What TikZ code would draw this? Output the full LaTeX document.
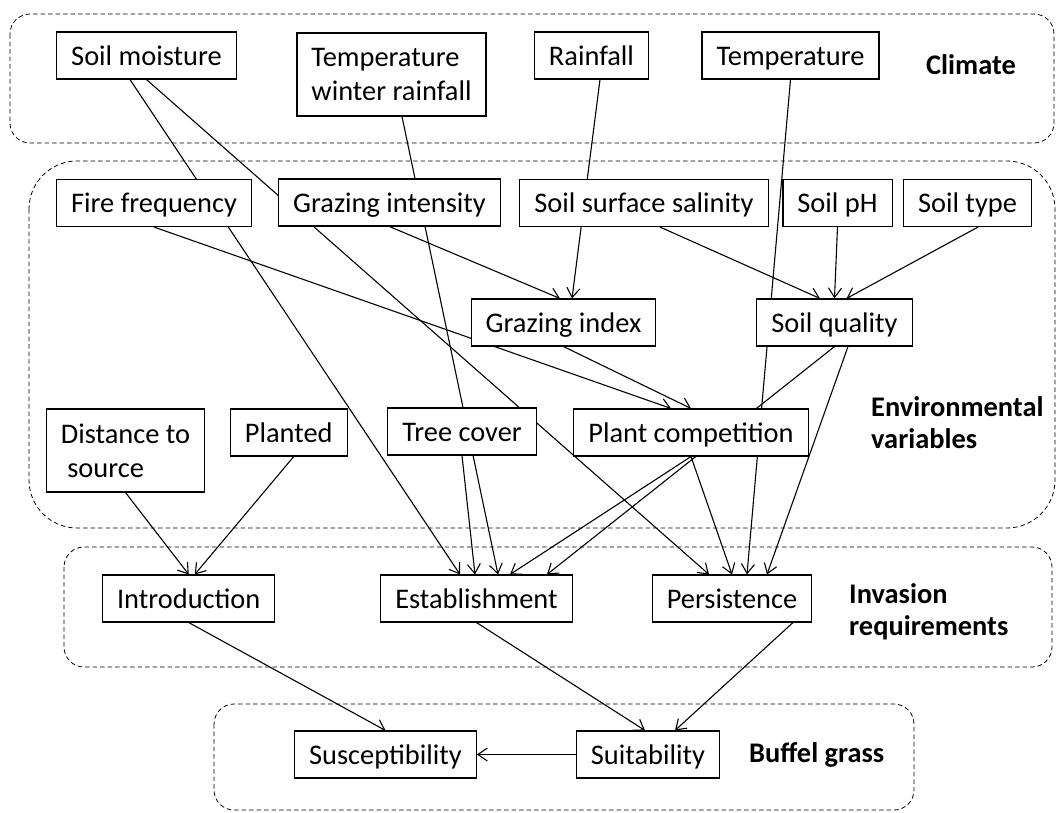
\documentclass[tikz,border=0pt]{standalone}
\usepackage{fontspec}
\setmainfont{Carlito}
\usetikzlibrary{arrows.meta,backgrounds}

\begin{document}
\begin{tikzpicture}[
    x=1pt, y=-1pt,
    box/.style={draw, fill=white, line width=1.1pt, inner xsep=14.5pt, inner ysep=0pt, font=\fontsize{28.4pt}{34pt}\selectfont},
    onebox/.style={box, minimum height=47pt, text height=23pt, text depth=3.5pt},
    twobox/.style={box, minimum height=83pt, align=left},
    group/.style={draw, dash pattern=on 4.5pt off 3pt, line width=0.8pt},
    tag/.style={anchor=west, inner sep=0pt, align=left, font=\bfseries\fontsize{28.4pt}{32pt}\selectfont},
    link/.style={->, line width=1.1pt},
    >={Straight Barb[length=9.5pt,width=13pt]}
]
\useasboundingbox (0,0) rectangle (1058,812);

\draw[group, rounded corners=20pt] (10,14) rectangle (1054,143);
\draw[group, rounded corners=48pt] (29,161) rectangle (1055,528);
\draw[group, rounded corners=20pt] (64,547) rectangle (1052,667);
\draw[group, rounded corners=20pt] (214,704) rectangle (914,810);

\node[onebox] (soilmoist) at (146.5,55.5) {Soil moisture};
\node[twobox] (tempwinter) at (391.5,74.5) {Temperature\\winter rainfall};
\node[onebox] (rainfall) at (591.5,55.5) {Rainfall};
\node[onebox] (temp) at (790.5,55.5) {Temperature};
\node[tag] (climate) at (926,65) {Climate};

\node[onebox] (firefreq) at (154,203) {Fire frequency};
\node[onebox] (grazint) at (389.5,202.5) {Grazing intensity};
\node[onebox] (salinity) at (644,203) {Soil surface salinity};
\node[onebox] (soilph) at (837.5,203) {Soil pH};
\node[onebox] (soiltype) at (967.5,203) {Soil type};

\node[onebox] (grazidx) at (563.5,322.5) {Grazing index};
\node[onebox] (soilqual) at (834.5,322.5) {Soil quality};

\node[twobox] (distsrc) at (125.5,450.5) {Distance to\\\ source};
\node[onebox] (planted) at (288.75,432.5) {Planted};
\node[onebox] (treecov) at (462,431.5) {Tree cover};
\node[onebox] (plantcomp) at (691,432.5) {Plant competition};
\node[tag] (envvar) at (871,423) {Environmental\\variables};

\node[onebox] (intro) at (188.75,598.5) {Introduction};
\node[onebox] (establ) at (476.5,598.5) {Establishment};
\node[onebox] (persist) at (732,598.5) {Persistence};
\node[tag] (invreq) at (849,612) {Invasion\\requirements};

\node[onebox] (suscept) at (385.5,754.5) {Susceptibility};
\node[onebox] (suitab) at (648,754.5) {Suitability};
\node[tag] (buffel) at (749,755) {Buffel grass};

\begin{scope}[on background layer]
\draw[link] ([xshift=-16.5pt]soilmoist.south) -- ([xshift=-16.5pt]establ.north);
\draw[link] (soilmoist.south) -- ([xshift=-23pt]persist.north);
\draw[link] ([xshift=10.5pt]tempwinter.south) -- ([xshift=21.5pt]establ.north);
\draw[link] ([xshift=8.5pt]rainfall.south) -- ([xshift=8.5pt]grazidx.north);
\draw[link] (temp.south) -- ([xshift=15pt]persist.north);
\draw[link] (firefreq.south) -- ([xshift=-20pt]plantcomp.north);
\draw[link] (grazint.south) -- ([xshift=-3.5pt]grazidx.north);
\draw[link] ([xshift=16pt]salinity.south) -- ([xshift=-14.5pt]soilqual.north);
\draw[link] (soilph.south) -- (soilqual.north);
\draw[link] ([xshift=10.5pt]soiltype.south) -- ([xshift=12pt]soilqual.north);
\draw[link] (grazidx.south) -- (plantcomp.north);
\draw[link] (soilqual.south) -- ([xshift=70.5pt]establ.north);
\draw[link] ([xshift=13.5pt]soilqual.south) -- ([xshift=35pt]persist.north);
\draw[link] (distsrc.south) -- (intro.north);
\draw[link] ([xshift=5pt]planted.south) -- ([xshift=6pt]intro.north);
\draw[link] (treecov.south) -- ([xshift=-1.5pt]establ.north);
\draw[link] (plantcomp.south) -- ([xshift=33.5pt]establ.north);
\draw[link] (plantcomp.south) -- (persist.north);
\draw[link] (intro.south) -- (suscept.north);
\draw[link] (establ.south) -- ([xshift=-3pt]suitab.north);
\draw[link] ([xshift=61pt]persist.south) -- ([xshift=27pt]suitab.north);
\draw[link] (suitab.west) -- (suscept.east);
\end{scope}
\end{tikzpicture}
\end{document}
